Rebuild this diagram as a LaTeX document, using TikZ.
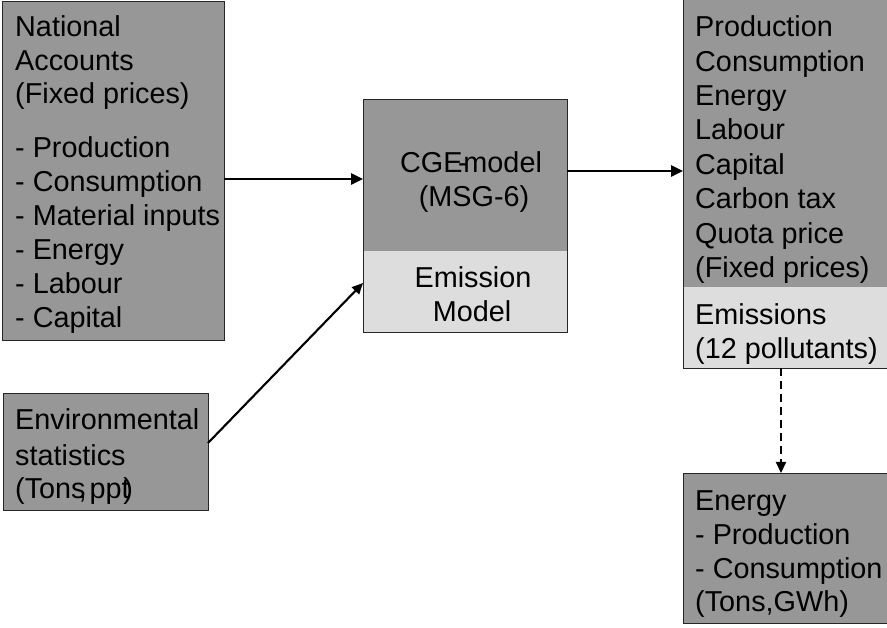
\documentclass[tikz,border=0pt]{standalone}
\usepackage{fontspec}
\setmainfont{Liberation Sans}
\usetikzlibrary{arrows.meta}
\definecolor{boxdark}{HTML}{979797}
\definecolor{boxlight}{HTML}{DDDDDD}
\begin{document}
\begin{tikzpicture}[x=1pt,y=-1pt,
  box/.style={draw=black!85, line width=0.9pt, fill=boxdark, inner sep=0pt, outer sep=0pt, anchor=north west},
  txt/.style={font=\fontsize{28.8}{34}\selectfont, inner sep=0pt, anchor=base west},
  ctxt/.style={font=\fontsize{28.8}{34}\selectfont, inner sep=0pt, anchor=base},
  lowerlight/.style={path picture={\fill[boxlight] ([yshift=#1]path picture bounding box.south west) rectangle (path picture bounding box.south east);}},
  arr/.style={line width=2.6pt, -{Triangle[length=12pt,width=11pt]}},
  arrthin/.style={line width=2.1pt, -{Triangle[length=11pt,width=10pt]}},
  dasharr/.style={line width=2.1pt, dash pattern=on 8pt off 5pt, -{Triangle[length=11pt,width=10pt]}}
]
\useasboundingbox (0,0) rectangle (887,628);

% boxes
\node[box, minimum width=222, minimum height=339] (na) at (2,1) {};
\node[box, minimum width=205, minimum height=117] (env) at (3,393) {};
\node[box, minimum width=204, minimum height=233, lowerlight=81pt] (cge) at (363,99) {};
\node[box, minimum width=230, minimum height=370, lowerlight=81pt] (out) at (683,-2) {};
\node[box, minimum width=230, minimum height=150] (en) at (683,473) {};

% National accounts text
\foreach \y/\t [count=\i] in {37/National, 71/Accounts, 104/{(Fixed prices)}, 158/{- Production}, 192/{- Consumption}, 226/{- Material inputs}, 260/{- Energy}, 294/{- Labour}, 328/{- Capital}}
  \node[txt] (nat\i) at (15,\y) {\t};

% Environmental statistics
\foreach \y/\t [count=\i] in {430/Environmental, 465/statistics, 498/{(Tons\kern-.24em,\kern.1em ppt\kern-.22em)}}
  \node[txt] (env\i) at (15,\y) {\t};

% CGE model
\node[ctxt] (cge1) at (471,173) {CGE\kern-.15em-\kern-.15em model};
\node[ctxt] (cge2) at (474,207) {(MSG-6)};
\node[ctxt] (cge3) at (473,288) {Emission};
\node[ctxt] (cge4) at (472,322) {Model};

% Output
\foreach \y/\t [count=\i] in {37/Production, 71.5/Consumption, 106/Energy, 140/Labour, 175/Capital, 209/Carbon tax, 244/Quota price, 278/{(Fixed prices)}, 325/Emissions, 359/{(12 pollutants)}}
  \node[txt] (out\i) at (695,\y) {\t};

% Energy
\foreach \y/\t [count=\i] in {510/Energy, 544/{- Production}, 578/{- Consumption}, 611/{(Tons,GWh)}}
  \node[txt] (en\i) at (695,\y) {\t};

% connectors
\coordinate (r1) at (0,179);
\coordinate (r2) at (0,171);
\coordinate (s3) at (0,443);
\coordinate (e3) at (0,283);
\coordinate (dx) at (781,0);
\draw[arr] (na.east |- r1) -- (cge.west |- r1);
\draw[arr] (cge.east |- r2) -- (out.west |- r2);
\draw[arrthin] (env.east |- s3) -- (cge.west |- e3);
\draw[dasharr] (out.south -| dx) -- (en.north -| dx);
\end{tikzpicture}
\end{document}
